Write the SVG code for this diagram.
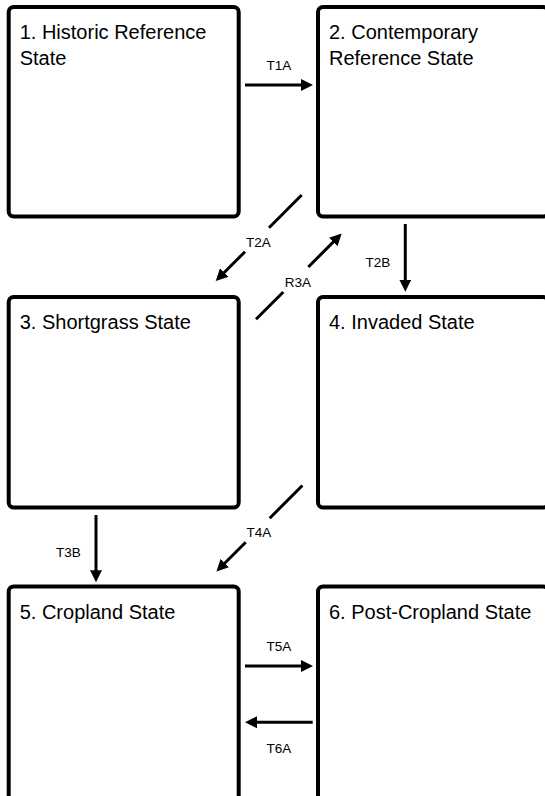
<svg xmlns="http://www.w3.org/2000/svg" width="545" height="796" viewBox="0 0 545 796">
<style>
.box{fill:#fff;stroke:#000;stroke-width:4}
.title{font-family:"Liberation Sans",Arial,sans-serif;font-size:20px;fill:#000}
.lbl{font-family:"Liberation Sans",Arial,sans-serif;font-size:13.5px;fill:#000;text-anchor:middle}
.ln{stroke:#000;stroke-width:3;fill:none}
</style>
<defs>
<marker id="ah" markerUnits="userSpaceOnUse" markerWidth="12" markerHeight="12" refX="1" refY="6" orient="auto">
<path d="M0,0 L12,6 L0,12 z" fill="#000"/>
</marker>
</defs>
<rect width="545" height="796" fill="#fff"/>
<g id="node1"><rect class="box" x="8.7" y="7" width="230" height="209.5" rx="5"/><text class="title" x="19.7" y="39.3">1. Historic Reference</text><text class="title" x="19.7" y="65">State</text></g>
<g id="node2"><rect class="box" x="318" y="7" width="230" height="209.5" rx="5"/><text class="title" x="329" y="39.3">2. Contemporary</text><text class="title" x="329" y="65">Reference State</text></g>
<g id="node3"><rect class="box" x="8.7" y="297" width="230" height="210.5" rx="5"/><text class="title" x="19.7" y="329.3">3. Shortgrass State</text></g>
<g id="node4"><rect class="box" x="318" y="297" width="230" height="210.5" rx="5"/><text class="title" x="329" y="329.3">4. Invaded State</text></g>
<g id="node5"><rect class="box" x="8.7" y="586.5" width="230" height="215" rx="5"/><text class="title" x="19.7" y="619.3">5. Cropland State</text></g>
<g id="node6"><rect class="box" x="318" y="586.5" width="230" height="215" rx="5"/><text class="title" x="329" y="619.3">6. Post-Cropland State</text></g>
<g id="connectors">
<line class="ln" x1="245" y1="85" x2="302" y2="85" marker-end="url(#ah)"/>
<text class="lbl" x="279" y="70">T1A</text>
<line class="ln" x1="301.7" y1="195" x2="269" y2="227.7"/>
<line class="ln" x1="245" y1="251.7" x2="223.5" y2="273.2" marker-end="url(#ah)"/>
<text class="lbl" x="258.5" y="246.7">T2A</text>
<line class="ln" x1="256" y1="319.3" x2="283.3" y2="292"/>
<line class="ln" x1="308.3" y1="267" x2="333.9" y2="241.4" marker-end="url(#ah)"/>
<text class="lbl" x="298" y="286.7">R3A</text>
<line class="ln" x1="405.3" y1="224" x2="405.3" y2="280.7" marker-end="url(#ah)"/>
<text class="lbl" x="378" y="266.7">T2B</text>
<line class="ln" x1="96" y1="515" x2="96" y2="571.3" marker-end="url(#ah)"/>
<text class="lbl" x="68.3" y="556.7">T3B</text>
<line class="ln" x1="302.4" y1="485.5" x2="269.7" y2="518.2"/>
<line class="ln" x1="245.7" y1="542.2" x2="224.2" y2="563.7" marker-end="url(#ah)"/>
<text class="lbl" x="259" y="537.3">T4A</text>
<line class="ln" x1="245" y1="666" x2="302" y2="666" marker-end="url(#ah)"/>
<text class="lbl" x="279" y="650.7">T5A</text>
<line class="ln" x1="312.7" y1="722.3" x2="256" y2="722.3" marker-end="url(#ah)"/>
<text class="lbl" x="279" y="753.3">T6A</text>
</g>
</svg>
